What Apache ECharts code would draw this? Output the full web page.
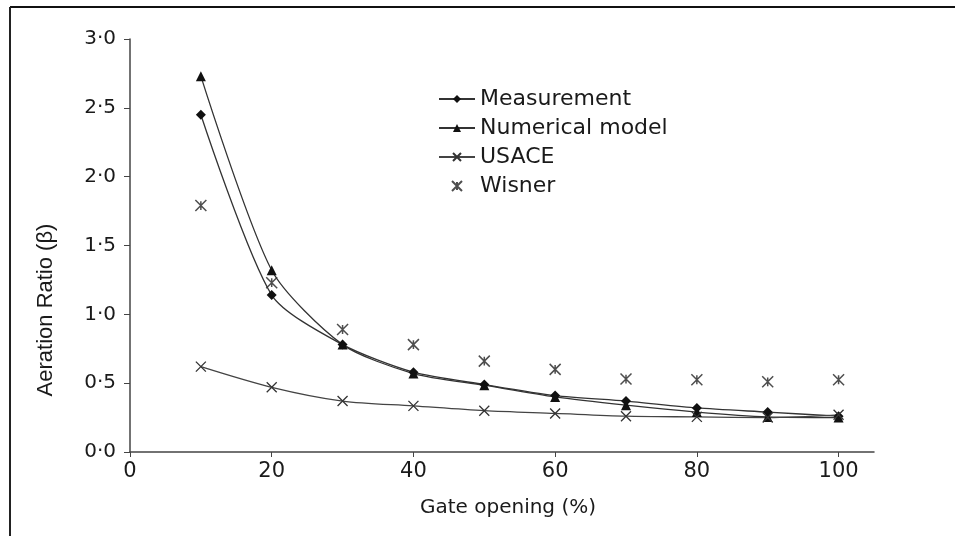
<!DOCTYPE html>
<html>
<head>
<meta charset="utf-8">
<script src="https://cdn.jsdelivr.net/npm/echarts@6/dist/echarts.min.js"></script>
<style>html,body{margin:0;padding:0;background:#fff;}#c{width:955px;height:536px;}</style>
</head>
<body>
<div id="c"></div>
<script>
const gateOpening = [10, 20, 30, 40, 50, 60, 70, 80, 90, 100];
const measurement = [2.45, 1.14, 0.78, 0.58, 0.49, 0.41, 0.37, 0.32, 0.29, 0.26];
const numerical   = [2.73, 1.32, 0.78, 0.57, 0.485, 0.40, 0.34, 0.29, 0.255, 0.25];
const usace       = [0.62, 0.47, 0.37, 0.335, 0.30, 0.28, 0.26, 0.255, 0.25, 0.27];
const wisner      = [1.79, 1.23, 0.89, 0.78, 0.66, 0.60, 0.53, 0.525, 0.51, 0.525];
const xTicks = [0, 20, 40, 60, 80, 100];
const seriesNames = ['Measurement', 'Numerical model', 'USACE', 'Wisner'];
const xTitle = 'Gate opening (%)';
const yTitle = 'Aeration Ratio (\u03B2)';

const pair = arr => gateOpening.map((x, i) => [x, arr[i]]);
const crossPath = 'path://M0,0L10,10M10,0L0,10';
const wisnerPath = 'path://M0,0L10,10M10,0L0,10M5,1L5,9';

const chart = echarts.init(document.getElementById('c'));
chart.setOption({
  animation: false,
  backgroundColor: '#fff',
  grid: { left: 130, right: 81, top: 39, bottom: 84 },
  xAxis: {
    type: 'value', min: 0, max: 105, interval: 20,
    axisLine: { lineStyle: { color: '#444', width: 1.5 } },
    axisTick: { show: true, length: 5, inside: false, customValues: xTicks, lineStyle: { color: '#444' } },
    axisLabel: { customValues: xTicks, margin: 9, color: '#1a1a1a', fontFamily: 'DejaVu Sans', fontSize: 21 },
    splitLine: { show: false }
  },
  yAxis: {
    type: 'value', min: 0, max: 3, interval: 0.5,
    axisLine: { show: true, lineStyle: { color: '#444', width: 1.5 } },
    axisTick: { show: true, length: 6, lineStyle: { color: '#444' } },
    axisLabel: { margin: 14, color: '#1a1a1a', fontFamily: 'DejaVu Sans', fontSize: 20,
      formatter: v => v.toFixed(1).replace('.', '\u00B7') },
    splitLine: { show: false }
  },
  legend: {
    orient: 'vertical', left: 438, top: 88, padding: 0,
    itemWidth: 36, itemHeight: 10, itemGap: 7,
    data: seriesNames,
    textStyle: { fontFamily: 'DejaVu Sans', fontSize: 22, color: '#1a1a1a', lineHeight: 22 }
  },
  graphic: [
    { type: 'line', shape: { x1: 10, y1: 7, x2: 955, y2: 7 }, style: { stroke: '#111', lineWidth: 2 } },
    { type: 'line', shape: { x1: 10, y1: 7, x2: 10, y2: 536 }, style: { stroke: '#222', lineWidth: 2 } },
    { type: 'text', x: 508, y: 508, style: { text: xTitle, fontFamily: 'DejaVu Sans', fontSize: 20, fill: '#1a1a1a', align: 'center', verticalAlign: 'middle' } },
    { type: 'text', x: 46, y: 310, rotation: Math.PI / 2, style: { text: yTitle, fontFamily: 'Liberation Sans', fontSize: 22, fill: '#1a1a1a', align: 'center', verticalAlign: 'middle' } }
  ],
  series: [
    { name: seriesNames[0], type: 'line', data: pair(measurement), smooth: 0.25,
      symbol: 'diamond', symbolSize: 10,
      itemStyle: { color: '#111' }, lineStyle: { color: '#333', width: 1.3 } },
    { name: seriesNames[1], type: 'line', data: pair(numerical), smooth: 0.25,
      symbol: 'triangle', symbolSize: 10,
      itemStyle: { color: '#111' }, lineStyle: { color: '#333', width: 1.3 } },
    { name: seriesNames[2], type: 'line', data: pair(usace), smooth: 0.3,
      symbol: crossPath, symbolSize: 10,
      itemStyle: { color: 'rgba(0,0,0,0)', borderColor: '#333', borderWidth: 1.3 },
      lineStyle: { color: '#444', width: 1.3 } },
    { name: seriesNames[3], type: 'scatter', data: pair(wisner),
      symbol: wisnerPath, symbolSize: 11,
      itemStyle: { color: 'rgba(0,0,0,0)', borderColor: '#222', borderWidth: 1.5 } }
  ]
});
</script>
</body>
</html>
